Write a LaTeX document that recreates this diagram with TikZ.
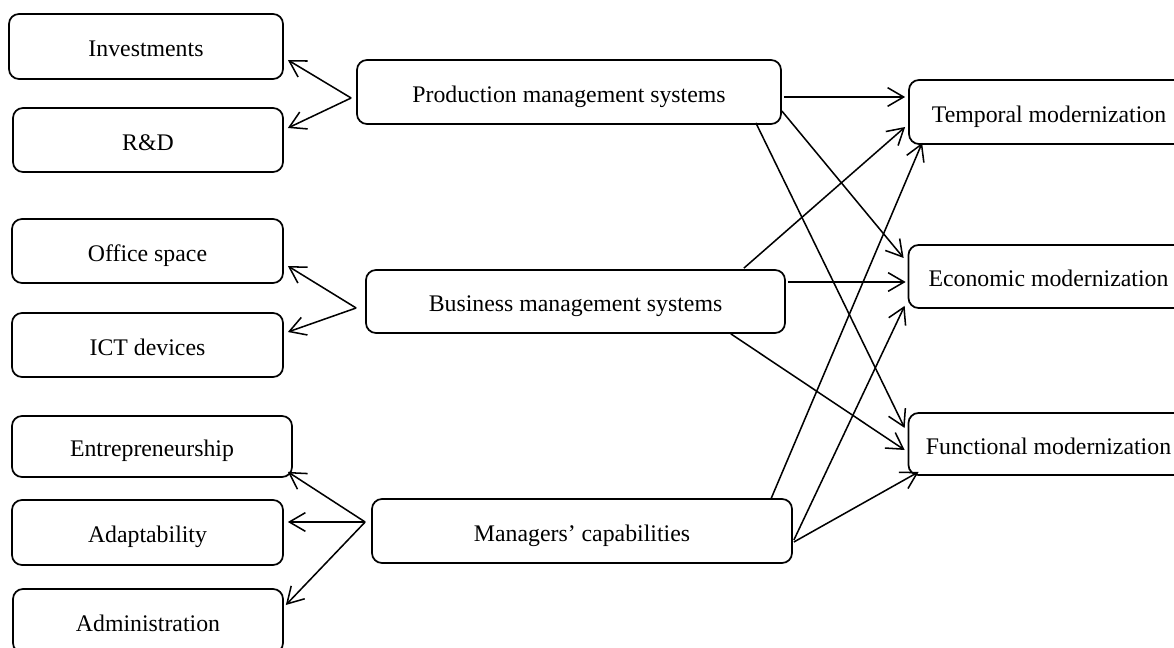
\documentclass[tikz,border=0pt]{standalone}
\usepackage{fontspec}
\setmainfont{Liberation Serif}
\usepackage{tikz}
\usetikzlibrary{calc, arrows.meta}
\tikzstyle{box}=[draw=black, line width=1.3pt, rounded corners=7.5pt, inner sep=0pt, minimum height=48pt, text height=15.5pt, text depth=0pt, font=\fontsize{17.85}{21.4}\selectfont]
\tikzstyle{leftbox}=[box, minimum width=203.25pt]
\tikzstyle{midbox}=[box, minimum width=315pt]
\tikzstyle{rightbox}=[box, minimum width=210pt]
\tikzstyle{link}=[line width=1.15pt, -{Straight Barb[length=12pt, width=14pt]}]

\begin{document}
\begin{tikzpicture}[x=0.75pt, y=-0.75pt]
			\fill[white] (0,0) rectangle (1174,648);
			\clip (0,0) rectangle (1174,648);

			\node[leftbox, minimum width=205.5pt, minimum height=48.75pt] (inv) at (146,46.5) {Investments};
			\node[leftbox, minimum width=202.5pt] (rd) at (148,140) {R\&D};
			\node[leftbox] (office) at (147.5,251) {Office space};
			\node[leftbox] (ict) at (147.5,345) {ICT devices};
			\node[leftbox, minimum width=210pt, minimum height=45.75pt] (entre) at (152,446.5) {Entrepreneurship};
			\node[leftbox, minimum height=48.75pt] (adapt) at (147.5,532.5) {Adaptability};
			\node[leftbox, minimum width=202.5pt] (admin) at (148,621) {Administration};

			\node[midbox, minimum width=318pt] (prod) at (569,92) {Production management systems};
			\node[midbox, minimum width=314.25pt, minimum height=47.25pt] (bus) at (575.5,301.5) {Business management systems};
			\node[midbox] (mgr) at (582,531) {Managers’ capabilities};

			\node[rightbox] (temp) at (1049,112) {Temporal modernization};
			\node[rightbox, minimum height=47.25pt] (econ) at (1048.5,276.5) {Economic modernization};
			\node[rightbox, minimum height=46.5pt] (func) at (1048.5,444) {Functional modernization};

			% towards the resources
			\draw[link] ($(prod.west)+(-5,6)$) -- ($(inv.east)+(4,13.5)$);
			\draw[link] ($(prod.west)+(-5,6)$) -- ($(rd.east)+(4,-12)$);
			\draw[link] ($(bus.west)+(-9,6.5)$) -- ($(office.east)+(4,15)$);
			\draw[link] ($(bus.west)+(-9,6.5)$) -- ($(ict.east)+(4,-13)$);
			\draw[link] ($(mgr.west)+(-6,-9)$) -- ($(entre.south east)+(-5,-6)$);
			\draw[link] ($(mgr.west)+(-6,-9)$) -- ($(adapt.east)+(4,-10.5)$);
			\draw[link] ($(mgr.west)+(-6,-9)$) -- ($(admin.east)+(2,-16)$);

			% towards the modernization types
			\draw[link] ($(prod.east)+(2,5)$) -- ($(temp.west)+(-3,-15)$);
			\draw[link] ($(prod.east)+(0,19)$) -- ($(econ.west)+(-4,-18.5)$);
			\draw[link] ($(prod.south east)+(-26,-2)$) -- ($(func.west)+(-3,-16)$);
			\draw[link] ($(bus.north east)+(-42,-1)$) -- ($(temp.west)+(-3,15)$);
			\draw[link] ($(bus.east)+(2,-19.5)$) -- ($(econ.west)+(-2,5.5)$);
			\draw[link] ($(bus.south east)+(-55,0)$) -- ($(func.west)+(-3,6)$);
			\draw[link] ($(mgr.north east)+(-22,1)$) -- ($(temp.south west)+(14,-2)$);
			\draw[link] ($(mgr.east)+(1,9)$) -- ($(econ.south west)+(-3,-3)$);
			\draw[link] ($(mgr.east)+(1,11)$) -- ($(func.south west)+(11,-4)$);
		\end{tikzpicture}
\end{document}
